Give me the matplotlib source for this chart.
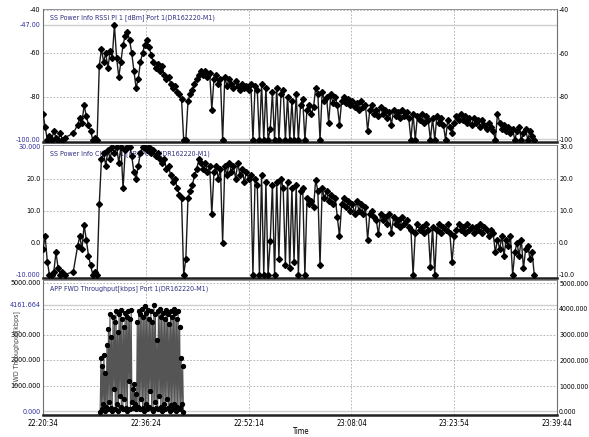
import numpy as np
import matplotlib
matplotlib.use("Agg")
import matplotlib.pyplot as plt

plt.rcParams['font.family'] = ['DejaVu Sans']
plt.rcParams['font.stretch'] = 'condensed'

nan = np.nan

# time axis: seconds after 22:20:34
START_SEC = 22 * 3600 + 20 * 60 + 34
X_END = 4750
X_TICKS = [0, 950, 1900, 2850, 3800, 4750]

# RSSI / CINR logged every 20 s (nan = no sample)
SIG_STEP = 20
rssi = [
    -88, -94, -100, -98, -100, -96, -99, -100, -97, -100,
    -99, nan, nan, nan, -97, nan, -93, -90, -92, -84,
    -89, -93, -96, -100, -99, -100, -66, -58, -64, -60,
    -67, -59, -62, -47, -62, -71, -64, -56, -52, -50,
    -54, -60, -68, -76, -72, -64, -60, -56, -54, -57,
    -61, -64, -67, -65, -68, -66, -70, -72, -71, -74,
    -76, -75, -78, -79, -81, -100, -100, -82, -79, -77,
    -74, -72, -70, -68, -70, -68, -71, -69, -86, -72,
    -70, -74, -72, -100, -71, -75, -72, -74, -76, -73,
    -75, -77, -74, -76, -75, -77, -74, -100, -75, -77,
    -100, -74, -100, -76, -100, -95, -78, -100, -76, -100,
    -79, -77, -100, -80, -100, -82, -100, -79, -100, -84,
    -81, -100, -86, -84, -88, -85, -76, -79, -100, -78,
    -82, -80, -92, -79, -83, -80, -84, -93, -82, -80,
    -83, -81, -84, -82, -85, -83, -86, -82, -85, -84,
    -96, -86, -84, -88, -86, -89, -85, -88, -86, -90,
    -87, -93, -86, -89, -87, -90, -86, -89, -87, -90,
    -100, -88, -100, -89, -91, -88, -92, -89, -91, -100,
    -90, -100, -89, -92, -90, -93, -100, -91, -94, -97,
    -92, -89, -91, -88, -91, -89, -92, -90, -93, -90,
    -92, -91, -94, -91, -93, -95, -92, -94, -96, -100,
    -88, -92, -95, -93, -96, -94, -97, -95, -100, -96,
    -94, -100, -97, -95, -100, -96, -98, -100,
]
cinr = [
    -2, 2, -6, -10, -10, -9, -3, -8, -10, -9,
    -10, nan, nan, nan, -9, nan, -1, 2, -2, 5.5,
    1, -4, -7, -10, -9, -10, 12, 26, 28, 24,
    29, 26, 30, 28, 30, 25, 30, 17, 29, 30,
    30, 27, 22, 20, 24, 28, 30, 30, 29, 30,
    28, 29, 27, 28, 26, 25, 26, 23, 24, 21,
    19, 20, 17, 15, 14, -10, -5, 14, 16, 18,
    21, 23, 26, 25, 23, 25, 22, 24, 9, 22,
    24, 20, 23, 0, 24, 21, 25, 22, 24, 20,
    25, 21, 23, 19, 22, 20, 21, -10, 20, 18,
    -10, 21, -10, 19, -10, 0.6, 18, -10, 19, -5,
    20, 17, -7, 19, -8, 17, -6, 18, -10, 16,
    17, -10, 14, 12, 13, 11, 19.7, 16, -7, 17,
    14, 16, 13, 15, 12, 14, 8, 2, 12, 14,
    11, 13, 10, 12, 9, 13, 10, 12, 9, 11,
    1, 9, 10, 8, 7, 2.6, 9, 7, 8, 6,
    9, 3, 8, 6, 7, 5, 8, 6, 7, 5,
    4, -10, 3, 6, 4, 5, 3, 6, 4, -7.5,
    5, -10, 4, 6, 3, 5, 4, 6, 3, -6,
    2, 4, 6, 4, 5, 3, 6, 4, 5, 3,
    5, 4, 6, 3, 5, 4, 2, 4, 3, -3,
    1, -2, 2, -4, 1, -1, 2, -10, -3, 0,
    -4, 1, -8, -2, -1, -5, -3, -10,
]

# throughput logged every 7 s starting 528 s after start
TPUT_START = 528
TPUT_STEP = 7
tput = [
    0, 2100, 100, 1800, 300, 2200, 50, 1500, 200, 2600,
    100, 3200, 400, 3800, 150, 2900, 50, 3700, 900, 3500,
    100, 3900, 300, 3100, 50, 3800, 600, 3950, 200, 3600,
    100, 3300, 500, 3850, 150, 3700, 50, 3900, 1200, 3600,
    100, 3950,
    400, 900, 150, 1100, 300, 700, 100,
    3500, 200, 3900, 100, 3800, 500, 4000, 150, 3700, 50,
    4100, 300, 3850, 100, 3950, 200, 3600, 800, 3900, 100,
    3500, 50, 4161.664, 400, 3800, 150, 2800, 100, 3900, 600,
    4000, 200, 3700, 50, 3850, 300, 3600, 100, 3950, 500,
    3800, 150, 3400, 50, 3900, 250, 3700, 100, 4000, 300,
    3850, 50, 3600, 200, 3900, 100, 3300, 150, 2100, 300,
    1800, 0,
]

RSSI_MAX, RSSI_MIN = -47.00, -100.00
CINR_MAX, CINR_MIN = 30.000, -10.000
TPUT_MAX, TPUT_MIN = 4161.664, 0.000

TITLE_COL = '#2e2e80'
MINMAX_COL = '#3030a0'
GRID_COL = '#a8a8a8'
FS = 5.5        # x tick labels
FS_R = 5.0      # right axis labels
FS_L = 5.2      # left axis labels
FS_T = 5.0      # panel titles


def fmt_time(s):
    s = int(round(START_SEC + s))
    return f"{s // 3600:02d}:{s % 3600 // 60:02d}:{s % 60:02d}"


def setup_panel(ax, ylim, right_ticks, right_labels, grid_ys, left_labels, title, ref_lines):
    ax.set_xlim(0, X_END)
    ax.set_ylim(*ylim)
    ax.set_xticks(X_TICKS)
    ax.set_xticklabels([fmt_time(s) for s in X_TICKS])
    for s in X_TICKS[1:-1]:
        ax.axvline(s, ls=(0, (2, 2)), color=GRID_COL, lw=0.6, zorder=0)
    for y in grid_ys:
        ax.axhline(y, ls=(0, (2, 2)), color=GRID_COL, lw=0.6, zorder=0)
    for y in ref_lines:
        ax.axhline(y, color='#cfcfcf', lw=1.0, zorder=0)
    ax.yaxis.tick_right()
    ax.set_yticks(right_ticks)
    ax.set_yticklabels(right_labels)
    ax.tick_params(axis='y', length=0, pad=1.5, labelsize=FS_R)
    ax.tick_params(axis='x', length=0, labelsize=FS, pad=3)
    for val, lab, col in left_labels:
        ax.text(-0.005, val, lab, transform=ax.get_yaxis_transform(),
                ha='right', va='center', fontsize=FS_L, color=col)
    ax.text(0.014, 0.935, title, transform=ax.transAxes, fontsize=FS_T,
            color=TITLE_COL, ha='left', va='center', zorder=1)
    for side in ('left', 'right'):
        ax.spines[side].set_color('#707070')
        ax.spines[side].set_linewidth(0.8)
    ax.spines['top'].set_color('#808080')
    ax.spines['top'].set_linewidth(0.6)
    ax.spines['bottom'].set_color('#202020')
    ax.spines['bottom'].set_linewidth(1.8)


fig = plt.figure(figsize=(5.89, 4.37), dpi=100)
fig.patch.set_facecolor('white')

L, W = 43 / 589, 514 / 589
ax1 = fig.add_axes([L, 1 - 142 / 437, W, 133 / 437])
ax2 = fig.add_axes([L, 1 - 278 / 437, W, 133 / 437])
ax3 = fig.add_axes([L, 1 - 415 / 437, W, 135 / 437])

# RSSI
setup_panel(ax1, (-101, -39.6), [-40, -60, -80, -100], ['-40', '-60', '-80', '-100'],
            [-40, -60, -80],
            [(-40, '-40', 'black'), (RSSI_MAX, f'{RSSI_MAX:.2f}', MINMAX_COL),
             (-60, '-60', 'black'), (-80, '-80', 'black'),
             (RSSI_MIN, f'{RSSI_MIN:.2f}', MINMAX_COL)],
            'SS Power Info RSSI PI 1 [dBm] Port 1(DR162220-M1)', [RSSI_MAX, RSSI_MIN + 0.6])
v = np.array(rssi, float)
t = np.arange(len(v)) * SIG_STEP
m = ~np.isnan(v)
ax1.plot(t[m], v[m], color='#1a1a1a', lw=1.0, marker='D', ms=3.0,
         mfc='black', mec='black', zorder=3)
ax1.tick_params(axis='x', labelbottom=False)

# CINR
setup_panel(ax2, (-11, 30.5), [30, 20, 10, 0, -10], ['30.0', '20.0', '10.0', '0.0', '-10.0'],
            [20, 10, 0],
            [(CINR_MAX, f'{CINR_MAX:.3f}', MINMAX_COL), (20, '20.0', 'black'),
             (10, '10.0', 'black'), (0, '0.0', 'black'),
             (CINR_MIN, f'{CINR_MIN:.3f}', MINMAX_COL)],
            'SS Power Info CINR PI 1 [dB] Port 1(DR162220-M1)', [])
v = np.array(cinr, float)
t = np.arange(len(v)) * SIG_STEP
m = ~np.isnan(v)
ax2.plot(t[m], v[m], color='#1a1a1a', lw=1.0, marker='D', ms=3.0,
         mfc='black', mec='black', zorder=3)
ax2.tick_params(axis='x', labelbottom=False)

# Throughput
tp_ticks = [5000, 4000, 3000, 2000, 1000, 0]
setup_panel(ax3, (-120, 5120), tp_ticks, [f'{v:.3f}' for v in tp_ticks],
            [5000, 4000, 3000, 2000, 1000],
            [(5000, '5000.000', 'black'), (TPUT_MAX, f'{TPUT_MAX:.3f}', MINMAX_COL),
             (3000, '3000.000', 'black'), (2000, '2000.000', 'black'),
             (1000, '1000.000', 'black'), (TPUT_MIN, f'{TPUT_MIN:.3f}', MINMAX_COL)],
            'APP FWD Throughput[kbps] Port 1(DR162220-M1)', [TPUT_MAX, 40])
v = np.array(tput, float)
t = TPUT_START + np.arange(len(v)) * TPUT_STEP
ax3.plot(t, v, color='#555555', lw=0.8, marker='o', ms=2.8,
         mfc='black', mec='black', zorder=3)

fig.text(17 / 589, 1 - 348 / 437, 'FWD Throughput[kbps]', rotation=90, fontsize=5.0,
         color='#404040', ha='center', va='center', zorder=0)
fig.text(300 / 589, 1 - 431 / 437, 'Time', fontsize=FS, ha='center', va='center')

fig.savefig('out.png', dpi=100, facecolor='white')
